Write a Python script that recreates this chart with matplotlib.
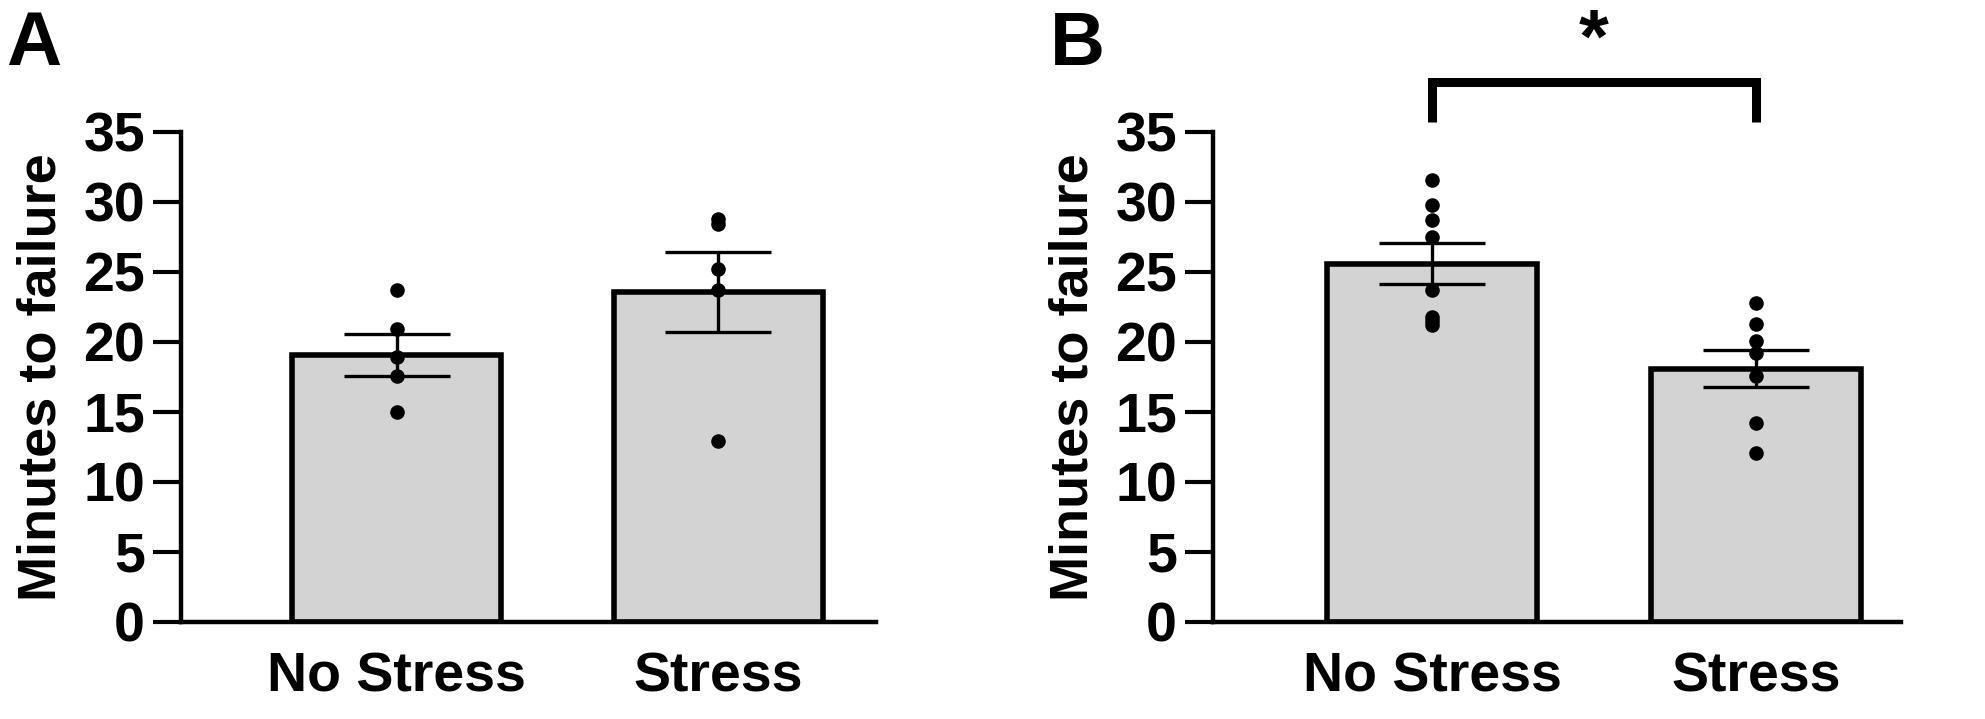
import matplotlib
matplotlib.use("Agg")
import matplotlib.pyplot as plt

plt.rcParams['font.family'] = ['Liberation Sans', 'DejaVu Sans']
plt.rcParams['font.weight'] = 'bold'

categories = ["No Stress", "Stress"]
y_ticks = [0, 5, 10, 15, 20, 25, 30, 35]

# Panel A
a_means = [19.1, 23.6]
a_sem = [1.5, 2.85]
a_no_stress = [23.7, 20.9, 18.9, 17.6, 15.0]
a_stress = [28.8, 28.4, 25.2, 23.7, 12.9]

# Panel B
b_means = [25.6, 18.1]
b_sem = [1.45, 1.3]
b_no_stress = [31.6, 29.8, 28.7, 27.5, 23.7, 21.8, 21.5, 21.2]
b_stress = [22.8, 21.3, 20.1, 19.2, 17.6, 14.2, 12.1]

W, H = 1985, 719
fig = plt.figure(figsize=(W / 100, H / 100), dpi=100)

bottom = 1 - 622 / H
height = (622 - 132) / H
axA = fig.add_axes([181 / W, bottom, (876 - 181) / W, height])
axB = fig.add_axes([1213 / W, bottom, (1901 - 1213) / W, height])


def draw(ax, means, sem, groups, xlim):
    x = list(range(len(categories)))
    ax.bar(x, means, width=0.65, color='#d3d3d3', edgecolor='black',
           linewidth=4, zorder=2)
    ax.errorbar(x, means, yerr=sem, fmt='none', ecolor='black',
                elinewidth=2.4, capsize=38, capthick=2.4, zorder=3)
    for xi, vals in zip(x, groups):
        ax.scatter([xi] * len(vals), vals, s=110, color='black', zorder=4,
                   linewidths=0)
    ax.set_xlim(*xlim)
    ax.set_ylim(0, 35)
    ax.set_yticks(y_ticks)
    ax.set_yticklabels([str(t) for t in y_ticks], fontsize=40, fontweight='bold')
    ax.set_xticks(x)
    ax.set_xticklabels(categories, fontsize=40, fontweight='bold')
    ax.tick_params(axis='y', length=20, width=3, pad=6)
    ax.tick_params(axis='x', length=0, pad=21)
    for s in ['top', 'right']:
        ax.spines[s].set_visible(False)
    for s in ['left', 'bottom']:
        ax.spines[s].set_linewidth(3.2)
    ax.set_ylabel("Minutes to failure", fontsize=39, fontweight='bold',
                  labelpad=12)


draw(axA, a_means, a_sem, [a_no_stress, a_stress], (-0.67, 1.49))
draw(axB, b_means, b_sem, [b_no_stress, b_stress], (-0.676, 1.447))

# significance bracket
axB.plot([0, 0, 1, 1], [35.7, 38.6, 38.6, 35.7], color='black', lw=6.5,
         clip_on=False, solid_joinstyle='miter', solid_capstyle='butt')
axB.text(0.5, 40.0, "*", fontsize=55, fontweight='bold', ha='center',
         va='baseline', clip_on=False)

fig.text(6 / W, 1 - 65 / H, "A", fontsize=55, fontweight='bold',
         ha='left', va='baseline')
fig.text(1050 / W, 1 - 65 / H, "B", fontsize=55, fontweight='bold',
         ha='left', va='baseline')

fig.savefig("out.png", dpi=100)
